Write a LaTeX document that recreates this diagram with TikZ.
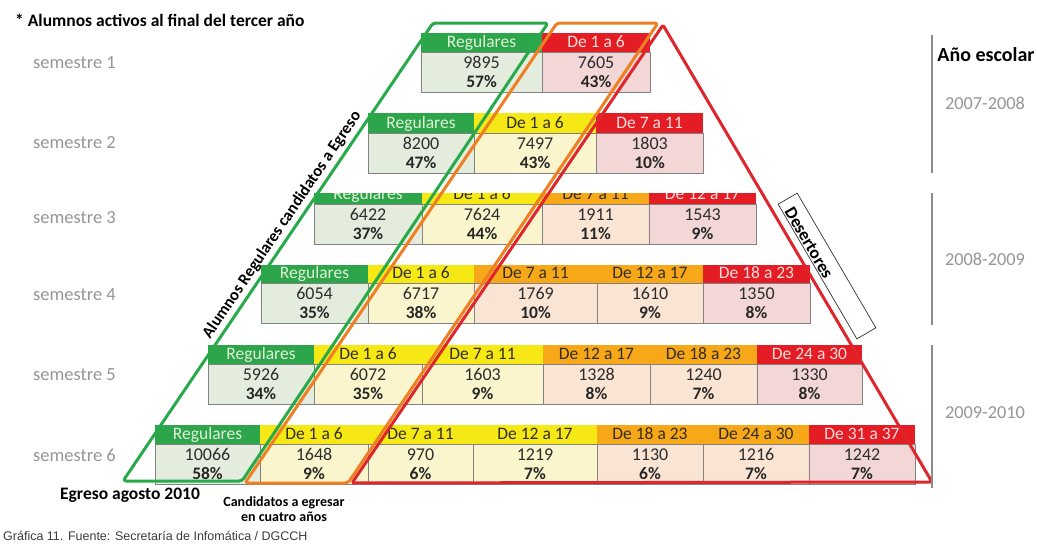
\documentclass[tikz,border=0pt]{standalone}
\usepackage{fontspec}
\setmainfont{Carlito}
\newfontfamily\arialfont{Liberation Sans}
\definecolor{hgreen}{RGB}{45,165,75}
\definecolor{hyellow}{RGB}{245,232,20}
\definecolor{horange}{RGB}{246,168,25}
\definecolor{hred}{RGB}{228,28,36}
\definecolor{bgreen}{RGB}{228,236,222}
\definecolor{byellow}{RGB}{250,245,205}
\definecolor{borange}{RGB}{250,228,212}
\definecolor{bred}{RGB}{243,214,214}
\definecolor{tgreen}{RGB}{225,242,215}
\definecolor{tred}{RGB}{252,222,222}
\definecolor{tdark}{RGB}{50,45,30}
\definecolor{lgreen}{RGB}{40,170,75}
\definecolor{lorange}{RGB}{238,128,35}
\definecolor{lred}{RGB}{222,38,45}
\definecolor{cellline}{RGB}{130,130,130}
\definecolor{numgray}{RGB}{45,45,45}
\definecolor{lblgray}{RGB}{150,150,150}
\definecolor{bargray}{RGB}{140,140,140}
\definecolor{capgray}{RGB}{60,60,60}
\tikzset{
  ghdr/.style={fill=hgreen}, yhdr/.style={fill=hyellow}, ohdr/.style={fill=horange}, rhdr/.style={fill=hred},
  gbg/.style={fill=bgreen}, ybg/.style={fill=byellow}, obg/.style={fill=borange}, rbg/.style={fill=bred},
  gtxt/.style={text=tgreen}, ytxt/.style={text=tdark}, otxt/.style={text=tdark}, rtxt/.style={text=tred},
  hdrtxt/.style={font=\fontsize{17.5}{19}\selectfont, inner sep=0, anchor=base},
  num/.style={font=\fontsize{18}{19}\selectfont, text=numgray, inner sep=0, anchor=base},
  pct/.style={font=\bfseries\fontsize{17.5}{19}\selectfont, text=black!85, inner sep=0, anchor=base},
  semlbl/.style={font=\fontsize{18.5}{20}\selectfont, text=lblgray, anchor=west, inner sep=0},
  yearlbl/.style={font=\fontsize{18.3}{20}\selectfont, text=lblgray, inner sep=0},
  yearbar/.style={draw=bargray, line width=2.6},
  gshape/.style={draw=lgreen, line width=3, rounded corners=3, line join=round},
  oshape/.style={draw=lorange, line width=3, rounded corners=3, line join=round},
  rshape/.style={draw=lred, line width=3, rounded corners=2, line join=round},
  boldlbl/.style={font=\bfseries\fontsize{17.5}{19}\selectfont, inner sep=0},
}
\newcommand{\pcell}[9]{%
  \begin{scope}
    \clip (#2,#4) rectangle (#3,#4+#5);
    \fill[#6hdr] (#2,#4) rectangle (#3,#4+#5);
    \node[hdrtxt,#6txt] (#1h) at ({(#2+#3)/2},#4+#5-4.5) {#7};
  \end{scope}
  \draw[#6bg, draw=cellline, line width=0.8] (#2,#4+#5) rectangle (#3,#4+#5+40);
  \node[num] (#1n) at ({(#2+#3)/2},#4+#5+16.5) {#8};
  \node[pct] (#1p) at ({(#2+#3)/2},#4+#5+35) {#9};
}
\begin{document}
\begin{tikzpicture}[x=1pt,y=-1pt]
\useasboundingbox (0,0) rectangle (1037,544);
\fill[white] (0,0) rectangle (1037,544);

% title
\node[font=\bfseries\fontsize{17.5}{19}\selectfont, anchor=west, inner sep=0] (title) at (15,20) {* Alumnos activos al final del tercer año};

% semester labels
\node[semlbl] (s1) at (33,63) {semestre 1};
\node[semlbl] (s2) at (33,143) {semestre 2};
\node[semlbl] (s3) at (33,218) {semestre 3};
\node[semlbl] (s4) at (33,295) {semestre 4};
\node[semlbl] (s5) at (33,375) {semestre 5};
\node[semlbl] (s6) at (33,455) {semestre 6};

% row 1
\pcell{ra1}{421}{542}{33}{19}{g}{Regulares}{9895}{57\%}
\pcell{ra2}{542}{650}{33}{19}{r}{De 1 a 6}{7605}{43\%}
% row 2
\pcell{rb1}{368}{474}{113}{20}{g}{Regulares}{8200}{47\%}
\pcell{rb2}{474}{596}{113}{20}{y}{De 1 a 6}{7497}{43\%}
\pcell{rb3}{596}{703}{113}{20}{r}{De 7 a 11}{1803}{10\%}
% row 3
\pcell{rc1}{314}{422}{193}{11}{g}{Regulares}{6422}{37\%}
\pcell{rc2}{422}{542}{193}{11}{y}{De 1 a 6}{7624}{44\%}
\pcell{rc3}{542}{649}{193}{11}{o}{De 7 a 11}{1911}{11\%}
\pcell{rc4}{649}{756}{193}{11}{r}{De 12 a 17}{1543}{9\%}
% row 4
\pcell{rd1}{261}{368}{265}{18}{g}{Regulares}{6054}{35\%}
\pcell{rd2}{368}{474}{265}{18}{y}{De 1 a 6}{6717}{38\%}
\pcell{rd3}{474}{597}{265}{18}{o}{De 7 a 11}{1769}{10\%}
\pcell{rd4}{597}{703}{265}{18}{o}{De 12 a 17}{1610}{9\%}
\pcell{rd5}{703}{810}{265}{18}{r}{De 18 a 23}{1350}{8\%}
% row 5
\pcell{re1}{208}{314}{345}{19}{g}{Regulares}{5926}{34\%}
\pcell{re2}{314}{422}{345}{19}{y}{De 1 a 6}{6072}{35\%}
\pcell{re3}{422}{543}{345}{19}{y}{De 7 a 11}{1603}{9\%}
\pcell{re4}{543}{650}{345}{19}{o}{De 12 a 17}{1328}{8\%}
\pcell{re5}{650}{757}{345}{19}{o}{De 18 a 23}{1240}{7\%}
\pcell{re6}{757}{862}{345}{19}{r}{De 24 a 30}{1330}{8\%}
% row 6
\pcell{rf1}{155}{260}{425}{19}{g}{Regulares}{10066}{58\%}
\pcell{rf2}{260}{368}{425}{19}{y}{De 1 a 6}{1648}{9\%}
\pcell{rf3}{368}{473}{425}{19}{y}{De 7 a 11}{970}{6\%}
\pcell{rf4}{473}{597}{425}{19}{y}{De 12 a 17}{1219}{7\%}
\pcell{rf5}{597}{703}{425}{19}{o}{De 18 a 23}{1130}{6\%}
\pcell{rf6}{703}{809}{425}{19}{o}{De 24 a 30}{1216}{7\%}
\pcell{rf7}{809}{915}{425}{19}{r}{De 31 a 37}{1242}{7\%}

% overlay shapes
\draw[gshape] (433,23) -- (548,23) -- (242,481) -- (123,481) -- cycle;
\draw[oshape] (557,23) -- (658,23) -- (348,483) -- (245,483) -- cycle;
\draw[rshape] (663,25) -- (932,482) -- (352,483) -- cycle;

% rotated labels
\node[boldlbl, rotate=56, font=\bfseries\fontsize{16.5}{18}\selectfont] (alum) at (282,225) {Alumnos Regulares candidatos a Egreso};
\node[draw=black!80, line width=0.7, rotate=-59.7, minimum width=156, minimum height=22, inner sep=0] (desbox) at (827,266) {};
\node[boldlbl, rotate=-59.7, font=\bfseries\fontsize{17.5}{19}\selectfont] (des) at (809,243) {Desertores};

% school years
\node[font=\bfseries\fontsize{20}{22}\selectfont, inner sep=0] (anio) at (986,55) {Año escolar};
\coordinate (b1t) at (932,35); \coordinate (b1b) at (932,173);
\coordinate (b2t) at (932,193); \coordinate (b2b) at (932,325);
\coordinate (b3t) at (932,345); \coordinate (b3b) at (932,488);
\draw[yearbar] (b1t) -- (b1b);
\draw[yearbar] (b2t) -- (b2b);
\draw[yearbar] (b3t) -- (b3b);
\node[yearlbl] (y1) at (985,103) {2007-2008};
\node[yearlbl] (y2) at (985,259) {2008-2009};
\node[yearlbl] (y3) at (985,413) {2009-2010};

% bottom labels
\node[boldlbl] (egreso) at (130,495) {Egreso agosto 2010};
\node[font=\bfseries\fontsize{14}{15}\selectfont, align=center, inner sep=0] (cand) at (284,509) {Candidatos a egresar\\en cuatro años};
\node[font=\arialfont\fontsize{12.5}{14}\selectfont, text=capgray, anchor=west, inner sep=0] (cap) at (3,536) {Gráfica 11. Fuente: Secretaría de Infomática / DGCCH};
\end{tikzpicture}
\end{document}
